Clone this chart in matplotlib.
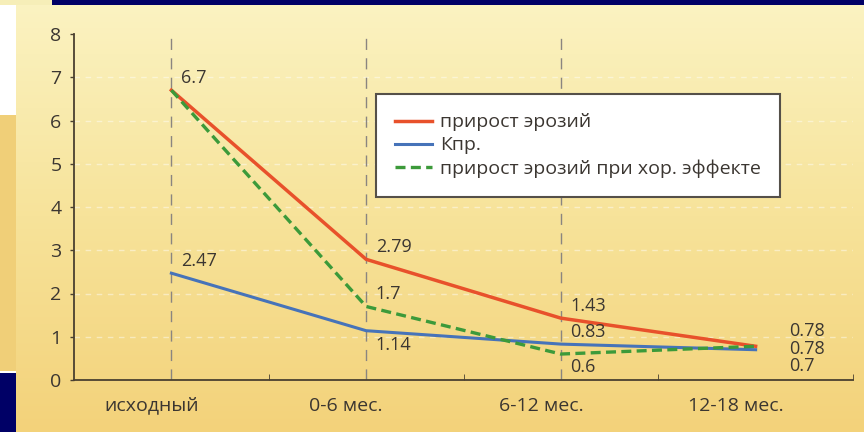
import numpy as np
import matplotlib
matplotlib.use("Agg")
from matplotlib import pyplot as plt
from matplotlib.patches import Rectangle
from matplotlib.colors import LinearSegmentedColormap
from matplotlib.transforms import ScaledTranslation

plt.rcParams['font.family'] = ['Open Sans', 'DejaVu Sans']

# data
categories = ["исходный", "0-6 мес.", "6-12 мес.", "12-18 мес."]
erosion = [6.7, 2.79, 1.43, 0.78]
kpr = [2.47, 1.14, 0.83, 0.7]
erosion_good = [6.7, 1.7, 0.6, 0.78]
labels_series = ["прирост эрозий", "Кпр.", "прирост эрозий при хор. эффекте"]

text_col = "#3b3631"
red = "#e8512b"
blue = "#4673b9"
green = "#3c9a3a"

fig = plt.figure(figsize=(8.64, 4.32), dpi=100)

# background: scanned slide look
bg = fig.add_axes([0, 0, 1, 1], zorder=-10)
bg.set_axis_off()
cmap = LinearSegmentedColormap.from_list("bg", ["#f3d27a", "#f7e39a", "#fbf3c2"])
grad = np.linspace(0, 1, 256).reshape(-1, 1)
bg.imshow(grad, cmap=cmap, aspect="auto", extent=[0, 1, 0, 1], origin="lower")
bg.set_xlim(0, 1)
bg.set_ylim(0, 1)
W, H = 864, 432
def rect(x0, y0, x1, y1, color):
    bg.add_patch(Rectangle((x0 / W, 1 - y1 / H), (x1 - x0) / W, (y1 - y0) / H,
                           facecolor=color, edgecolor="none"))
rect(52, 0, 864, 5, "#000066")
rect(0, 0, 52, 5, "#f6eeb8")
rect(0, 5, 16, 115, "white")
rect(0, 115, 16, 373, "#f0cf78")
rect(0, 371, 16, 373, "white")
rect(0, 373, 16, 432, "#000066")

ax = fig.add_axes([74 / W, 1 - 380 / H, (853 - 74) / W, (380 - 34) / H])
ax.set_facecolor("none")

x = np.arange(len(categories))

for xi in x[:3]:
    ax.plot([xi, xi], [0, 8], color="#8a8580", lw=1, dashes=(8, 6), zorder=1)

for yv in range(1, 8):
    ax.axhline(yv, color="white", lw=1, ls=(0, (4, 4)), alpha=0.45, zorder=0)

ax.plot(x, erosion, color=red, lw=2.5, label=labels_series[0], zorder=3)
ax.plot(x, kpr, color=blue, lw=2.2, label=labels_series[1], zorder=3)
ax.plot(x, erosion_good, color=green, lw=2.4, dashes=(3, 1.6), label=labels_series[2], zorder=4)

fs = 13
# value labels
ax.text(x[0] + 0.05, erosion[0] + 0.08, "6.7", fontsize=fs, color=text_col, va="bottom")
ax.text(x[0] + 0.05, kpr[0] + 0.08, "2.47", fontsize=fs, color=text_col, va="bottom")
ax.text(x[1] + 0.05, erosion[1] + 0.08, "2.79", fontsize=fs, color=text_col, va="bottom")
ax.text(x[1] + 0.05, erosion_good[1] + 0.08, "1.7", fontsize=fs, color=text_col, va="bottom")
ax.text(x[1] + 0.05, kpr[1] - 0.12, "1.14", fontsize=fs, color=text_col, va="top")
ax.text(x[2] + 0.05, erosion[2] + 0.08, "1.43", fontsize=fs, color=text_col, va="bottom")
ax.text(x[2] + 0.05, kpr[2] + 0.08, "0.83", fontsize=fs, color=text_col, va="bottom")
ax.text(x[2] + 0.05, erosion_good[2] - 0.08, "0.6", fontsize=fs, color=text_col, va="top")
ax.text(x[3] + 0.17, 1.14, "0.78", fontsize=fs, color=text_col, va="center")
ax.text(x[3] + 0.17, 0.71, "0.78", fontsize=fs, color=text_col, va="center")
ax.text(x[3] + 0.17, 0.33, "0.7", fontsize=fs, color=text_col, va="center")

ax.set_xlim(-0.5, 3.5)
ax.set_ylim(0, 8)
ax.set_yticks(range(0, 9))
ax.set_xticks(x)
ax.set_xticklabels(categories)
ax.set_xticks([0.5, 1.5, 2.5, 3.5], minor=True)
ax.tick_params(axis="x", which="major", length=0, pad=12, labelsize=14, labelcolor=text_col)
ax.tick_params(axis="x", which="minor", length=4, direction="in", color="#4a4030")
ax.tick_params(axis="y", length=3, width=1, color="#4a4030", labelsize=14,
               labelcolor=text_col, pad=6)
shift = ScaledTranslation(-0.2, 0, fig.dpi_scale_trans)
for lab in ax.get_xticklabels():
    lab.set_transform(lab.get_transform() + shift)
for s in ["top", "right"]:
    ax.spines[s].set_visible(False)
ax.spines["left"].set_color("#4a4030")
ax.spines["bottom"].set_color("#4a4030")
ax.spines["left"].set_linewidth(1.3)
ax.spines["bottom"].set_linewidth(1.3)

leg = ax.legend(loc="upper left", bbox_to_anchor=((376 - 74) / (853 - 74), 1 - (94 - 34) / 346),
                borderaxespad=0, fontsize=14, frameon=True, fancybox=False, handlelength=1.9,
                handletextpad=0.4, labelspacing=0.25, borderpad=1.0, labelcolor=text_col)
leg.get_frame().set_edgecolor("#555049")
leg.get_frame().set_linewidth(1.5)
leg.get_frame().set_facecolor("white")
leg.get_frame().set_alpha(1)

plt.savefig("out.png", dpi=100)
